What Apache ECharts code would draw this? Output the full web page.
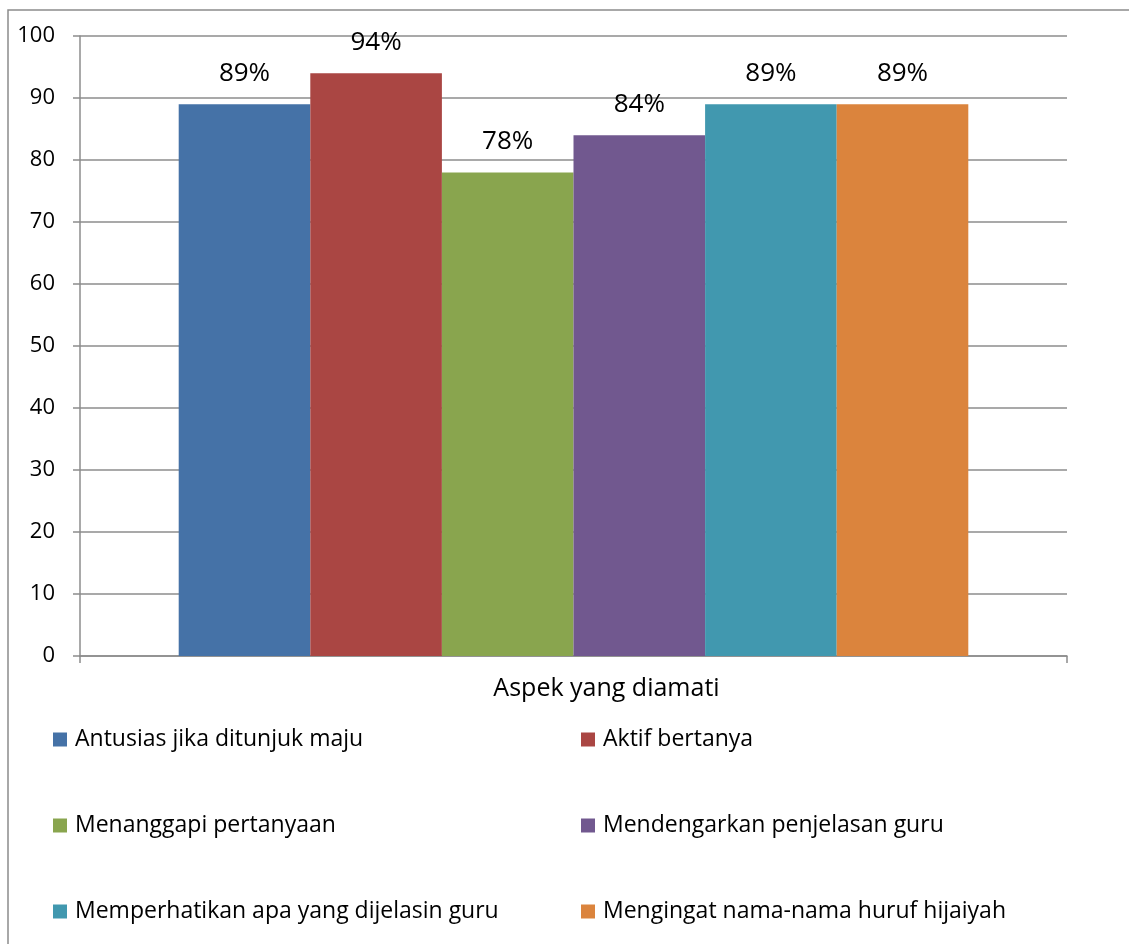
<!DOCTYPE html>
<html><head><meta charset="utf-8">
<script src="https://cdn.jsdelivr.net/npm/echarts@6/dist/echarts.min.js"></script>
<style>html,body{margin:0;padding:0;background:#fff}#c{width:1129px;height:944px}</style>
</head><body><div id="c"></div>
<script>
const categories = ['Aspek yang diamati'];
const seriesNames = ['Antusias jika ditunjuk maju','Aktif bertanya','Menanggapi pertanyaan','Mendengarkan penjelasan guru','Memperhatikan apa yang dijelasin guru','Mengingat nama-nama huruf hijaiyah'];
const seriesValues = [89, 94, 78, 84, 89, 89];
const colors = ['#4572A7','#AA4643','#89A54E','#71588F','#4198AF','#DB843D'];
const FONT = 'Open Sans';
const legendPos = [[53,728],[581,728],[53,814],[581,814],[53,900],[581,900]];

const chart = echarts.init(document.getElementById('c'));
chart.setOption({
  animation:false,
  textStyle:{fontFamily:FONT},
  graphic:[{type:'rect',shape:{x:8,y:10,width:1300,height:1100},style:{fill:'none',stroke:'#8c8c8c',lineWidth:1.5},silent:true}],
  grid:{left:80,right:62,top:36,bottom:288,containLabel:false},
  xAxis:{type:'category',data:categories,
    axisLine:{lineStyle:{color:'#8c8c8c',width:1.5}},
    axisTick:{show:true,length:7,lineStyle:{color:'#8c8c8c',width:1.5}},
    axisLabel:{color:'#000',fontSize:25,margin:20,fontFamily:FONT,padding:[0,0,0,66]}},
  yAxis:{type:'value',min:0,max:100,interval:10,
    axisLine:{show:true,lineStyle:{color:'#8c8c8c',width:1.5}},
    axisTick:{show:true,length:7,lineStyle:{color:'#8c8c8c',width:1.5}},
    splitLine:{lineStyle:{color:'#8c8c8c',width:1.5}},
    axisLabel:{color:'#000',fontSize:22,margin:25,fontFamily:FONT}},
  legend: seriesNames.map((n,i)=>({data:[n],left:legendPos[i][0],top:legendPos[i][1],padding:0,
    itemWidth:14,itemHeight:14,icon:'rect',itemGap:8,
    textStyle:{color:'#000',fontSize:23,fontFamily:FONT,padding:[0,0,0,3]}})),
  series: seriesNames.map((n,i)=>({name:n,type:'bar',data:[seriesValues[i]],
    barGap:'0%',barCategoryGap:'20%',
    itemStyle:{color:colors[i]},
    label:{show:true,position:'top',distance:18,color:'#000',fontSize:26,fontFamily:FONT,formatter:'{c}%'}}))
});
</script></body></html>
